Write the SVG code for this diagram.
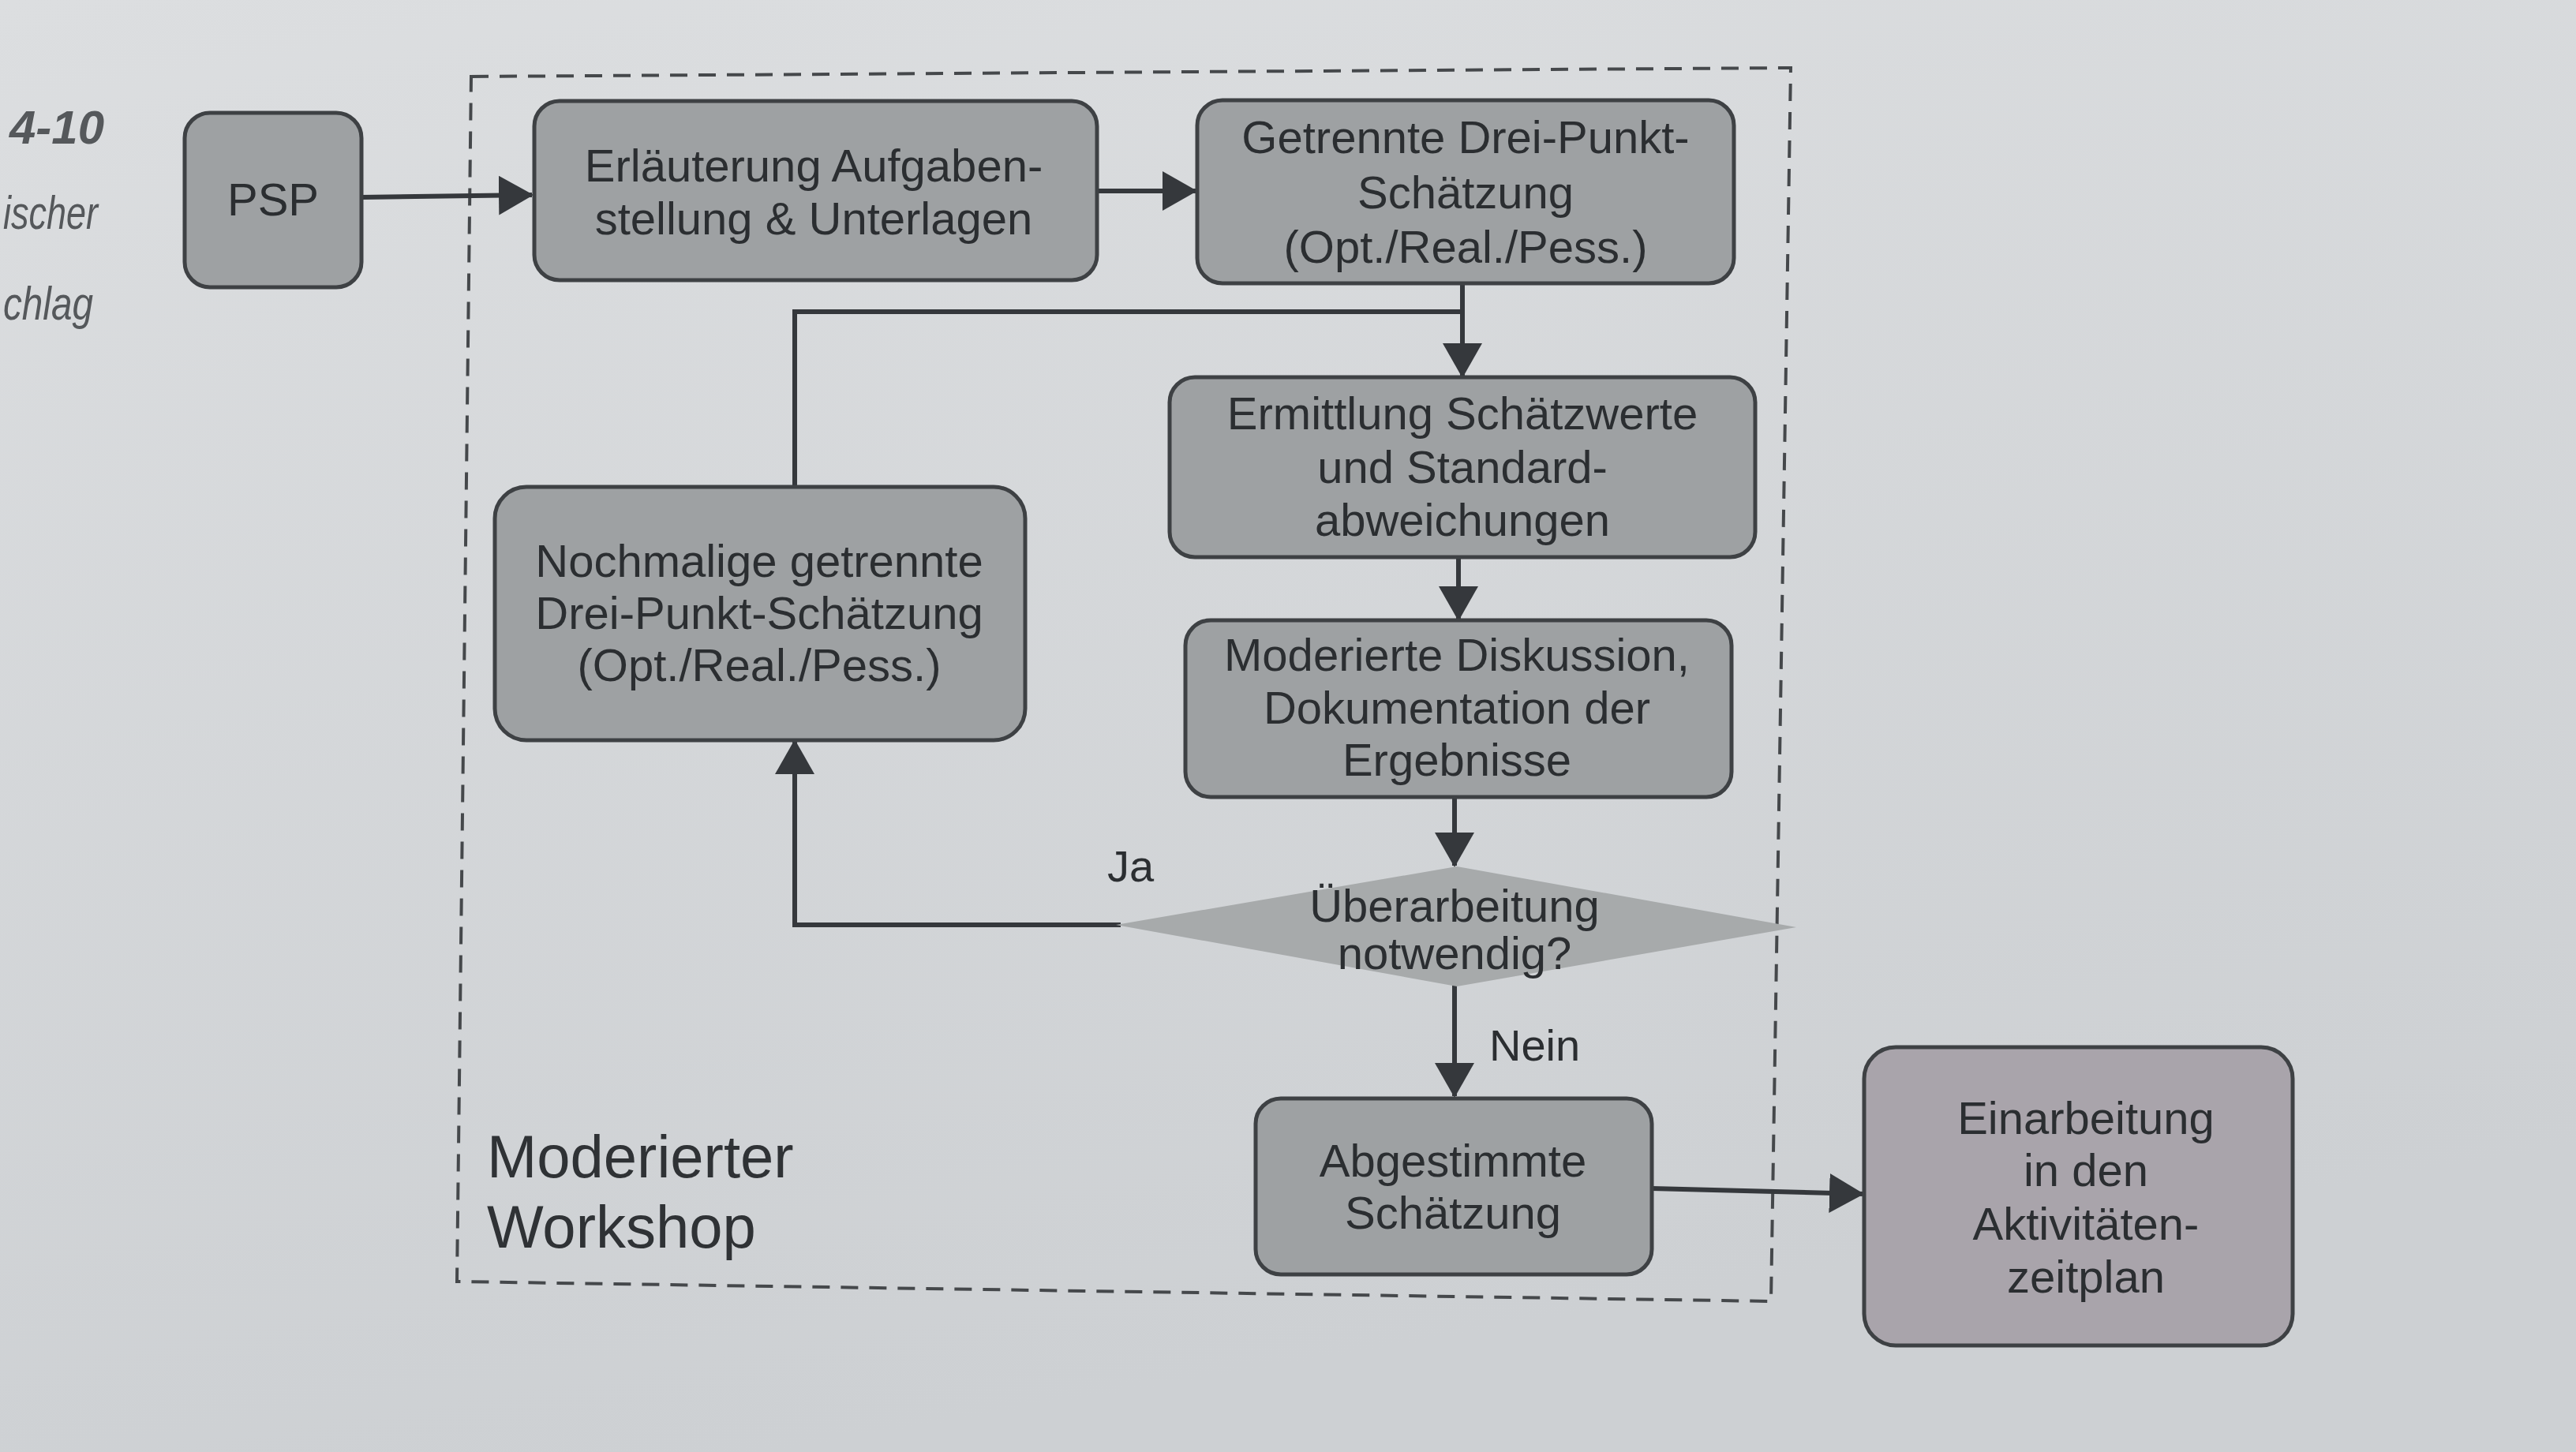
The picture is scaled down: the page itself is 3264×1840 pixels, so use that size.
<svg xmlns="http://www.w3.org/2000/svg" width="3264" height="1840" viewBox="0 0 3264 1840">
<defs>
<linearGradient id="bg" x1="0" y1="0" x2="0.3" y2="1">
<stop offset="0" stop-color="#dcdee0"/>
<stop offset="1" stop-color="#cdd0d3"/>
</linearGradient>
<marker id="ah" viewBox="0 0 44 50" refX="42" refY="25" markerWidth="44" markerHeight="50" markerUnits="userSpaceOnUse" orient="auto">
<path d="M0,0 L44,25 L0,50 Z" fill="#35383c"/>
</marker>
<style>
.box{fill:#9ea1a3;stroke:#3e4144;stroke-width:5}
.boxp{fill:#a9a4ab;stroke:#3e4144;stroke-width:5}
.t{font-family:"Liberation Sans",Arial,sans-serif;font-size:58px;fill:#2b2e31;text-anchor:middle}
.lbl{font-family:"Liberation Sans",Arial,sans-serif;font-size:56px;fill:#2b2e31}
.big{font-family:"Liberation Sans",Arial,sans-serif;font-size:76px;fill:#2f3235}
.side{font-family:"Liberation Sans",Arial,sans-serif;font-style:italic;font-size:60px;fill:#55585b}
.c{fill:none;stroke:#35383c;stroke-width:6}
.dash{fill:none;stroke:#45484b;stroke-width:4;stroke-dasharray:22 14}
</style>
</defs>
<rect x="0" y="0" width="3264" height="1840" fill="url(#bg)"/>

<g id="side-text">
<text class="side" x="12" y="182" font-weight="bold" fill="#3a3d40" textLength="120" lengthAdjust="spacingAndGlyphs">4-10</text>
<text class="side" x="4" y="290" textLength="120" lengthAdjust="spacingAndGlyphs">ischer</text>
<text class="side" x="4" y="405" textLength="114" lengthAdjust="spacingAndGlyphs">chlag</text>
</g>

<g id="workshop-frame">
<path class="dash" d="M597,97 L2269,86 L2244,1649 L579,1624 Z"/>
<text class="big" x="617" y="1492">Moderierter</text>
<text class="big" x="617" y="1581">Workshop</text>
</g>

<g id="connectors">
<path class="c" d="M458,250 L674,247" marker-end="url(#ah)"/>
<path class="c" d="M1390,242 L1515,242" marker-end="url(#ah)"/>
<path class="c" d="M1853,359 L1853,477" marker-end="url(#ah)"/>
<path class="c" d="M1007,616 L1007,395 L1853,395"/>
<path class="c" d="M1848,708 L1848,785" marker-end="url(#ah)"/>
<path class="c" d="M1843,1010 L1843,1097" marker-end="url(#ah)"/>
<path class="c" d="M1420,1172 L1007,1172 L1007,939" marker-end="url(#ah)"/>
<path class="c" d="M1843,1248 L1843,1389" marker-end="url(#ah)"/>
<path class="c" d="M2093,1506 L2360,1513" marker-end="url(#ah)"/>
<text class="lbl" x="1403" y="1117">Ja</text>
<text class="lbl" x="1887" y="1344">Nein</text>
</g>

<g id="psp">
<rect class="box" x="234" y="143" width="224" height="221" rx="32"/>
<text class="t" x="346" y="273">PSP</text>
</g>

<g id="erlaeuterung">
<rect class="box" x="677" y="128" width="713" height="227" rx="32"/>
<text class="t" x="1031" y="230">Erläuterung Aufgaben-</text>
<text class="t" x="1031" y="297">stellung &amp; Unterlagen</text>
</g>

<g id="getrennte">
<rect class="box" x="1517" y="127" width="680" height="232" rx="32"/>
<text class="t" x="1857" y="194">Getrennte Drei-Punkt-</text>
<text class="t" x="1857" y="264">Schätzung</text>
<text class="t" x="1857" y="333">(Opt./Real./Pess.)</text>
</g>

<g id="ermittlung">
<rect class="box" x="1482" y="478" width="742" height="228" rx="32"/>
<text class="t" x="1853" y="544">Ermittlung Schätzwerte</text>
<text class="t" x="1853" y="612">und Standard-</text>
<text class="t" x="1853" y="679">abweichungen</text>
</g>

<g id="moderierte">
<rect class="box" x="1502" y="786" width="692" height="224" rx="32"/>
<text class="t" x="1846" y="850">Moderierte Diskussion,</text>
<text class="t" x="1846" y="917">Dokumentation der</text>
<text class="t" x="1846" y="983">Ergebnisse</text>
</g>

<g id="entscheidung">
<polygon points="1846,1098 2276,1175 1846,1250 1414,1172" fill="#a7aaab"/>
<text class="t" x="1843" y="1168">Überarbeitung</text>
<text class="t" x="1843" y="1228">notwendig?</text>
</g>

<g id="nochmalige">
<rect class="box" x="627" y="617" width="672" height="321" rx="40"/>
<text class="t" x="962" y="731">Nochmalige getrennte</text>
<text class="t" x="962" y="797">Drei-Punkt-Schätzung</text>
<text class="t" x="962" y="863">(Opt./Real./Pess.)</text>
</g>

<g id="abgestimmte">
<rect class="box" x="1591" y="1392" width="502" height="223" rx="32"/>
<text class="t" x="1841" y="1491">Abgestimmte</text>
<text class="t" x="1841" y="1557">Schätzung</text>
</g>

<g id="einarbeitung">
<rect class="boxp" x="2362" y="1327" width="543" height="378" rx="40"/>
<text class="t" x="2643" y="1437">Einarbeitung</text>
<text class="t" x="2643" y="1503">in den</text>
<text class="t" x="2643" y="1571">Aktivitäten-</text>
<text class="t" x="2643" y="1638">zeitplan</text>
</g>
</svg>
